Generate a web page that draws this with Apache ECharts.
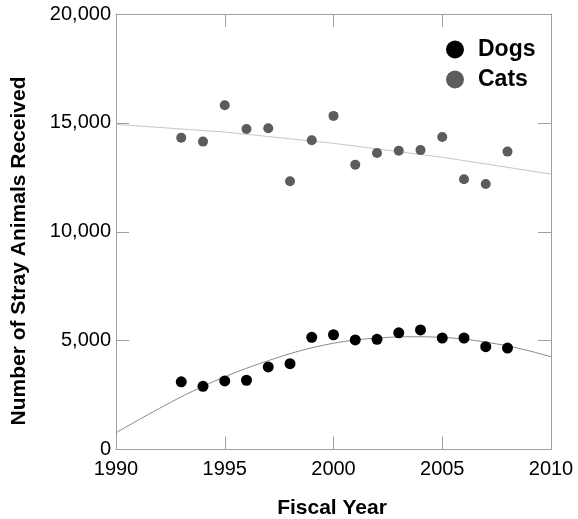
<!DOCTYPE html>
<html>
<head>
<meta charset="utf-8">
<script src="https://cdn.jsdelivr.net/npm/echarts@6/dist/echarts.min.js"></script>
<style>html,body{margin:0;padding:0;background:#fff}#c{width:578px;height:519px}</style>
</head>
<body>
<div id="c"></div>
<script>
var years = [1993,1994,1995,1996,1997,1998,1999,2000,2001,2002,2003,2004,2005,2006,2007,2008];
var dogs = [3110,2900,3150,3180,3790,3940,5150,5270,5030,5060,5360,5490,5120,5120,4720,4660];
var cats = [14320,14140,15810,14720,14750,12320,14200,15320,13080,13620,13720,13750,14350,12410,12190,13680];
var dogTrendYears = [1990,1991,1992,1993,1994,1995,1996,1997,1998,1999,2000,2001,2002,2003,2004,2005,2006,2007,2008,2009,2010];
var dogTrend = [770,1340,1890,2420,2900,3340,3730,4080,4400,4670,4880,5030,5120,5170,5180,5150,5070,4930,4760,4530,4260];
var catTrendYears = [1990,1995,2000,2005,2010];
var catTrend = [14930,14580,14060,13420,12650];
var xTicks = [1990,1995,2000,2005,2010];
var yTicks = [0,5000,10000,15000,20000];

var FONT = '"Liberation Sans", Arial, sans-serif';
var AX = '#a0a0a0';
function pairs(xs, ys){ return xs.map(function(x,i){return [x, ys[i]];}); }

var chart = echarts.init(document.getElementById('c'), null, {renderer:'canvas'});
chart.setOption({
  animation:false,
  backgroundColor:'#fff',
  grid:{left:116, right:27, top:14, bottom:69.5, containLabel:false},
  xAxis:[{
    type:'value', min:xTicks[0], max:xTicks[xTicks.length-1], interval:5,
    axisLine:{show:true, onZero:false, lineStyle:{color:AX, width:1}},
    axisTick:{show:true, inside:true, length:13, lineStyle:{color:AX}},
    axisLabel:{color:'#000', fontSize:20, fontFamily:FONT, margin:10, formatter:function(v){return String(v);}},
    splitLine:{show:false}
  },{
    type:'value', position:'top', min:xTicks[0], max:xTicks[xTicks.length-1], interval:5,
    axisLine:{show:true, onZero:false, lineStyle:{color:AX, width:1}},
    axisTick:{show:true, inside:true, length:13, lineStyle:{color:AX}},
    axisLabel:{show:false}, splitLine:{show:false}
  }],
  yAxis:[{
    type:'value', min:yTicks[0], max:yTicks[yTicks.length-1], interval:5000,
    axisLine:{show:true, onZero:false, lineStyle:{color:AX, width:1}},
    axisTick:{show:true, inside:true, length:13, lineStyle:{color:AX}},
    axisLabel:{color:'#000', fontSize:20, fontFamily:FONT, margin:5,
      formatter:function(v){return v.toLocaleString('en-US');}},
    splitLine:{show:false}
  },{
    type:'value', position:'right', min:yTicks[0], max:yTicks[yTicks.length-1], interval:5000,
    axisLine:{show:true, onZero:false, lineStyle:{color:AX, width:1}},
    axisTick:{show:true, inside:true, length:13, lineStyle:{color:AX}},
    axisLabel:{show:false}, splitLine:{show:false}
  }],
  legend:{
    data:['Dogs','Cats'], orient:'vertical', left:446, top:38, padding:0,
    itemWidth:18, itemHeight:18, itemGap:7, icon:'circle',
    textStyle:{fontSize:23, fontWeight:'bold', fontFamily:FONT, color:'#000', padding:[0,0,0,9]}
  },
  graphic:[
    {type:'text', x:332, y:508, style:{text:'Fiscal Year', font:'bold 21px '+FONT, fill:'#000', align:'center', verticalAlign:'middle'}},
    {type:'text', x:19, y:251, rotation:Math.PI/2, style:{text:'Number of Stray Animals Received', font:'bold 21px '+FONT, fill:'#000', align:'center', verticalAlign:'middle'}}
  ],
  series:[
    {name:'CatTrend', type:'line', data:pairs(catTrendYears, catTrend), symbol:'none', smooth:false,
      lineStyle:{color:'#c8c8c8', width:1}, silent:true, z:1},
    {name:'DogTrend', type:'line', data:pairs(dogTrendYears, dogTrend), symbol:'none', smooth:0.3,
      lineStyle:{color:'#8a8a8a', width:1}, silent:true, z:1},
    {name:'Dogs', type:'scatter', data:pairs(years, dogs), symbol:'circle', symbolSize:11,
      itemStyle:{color:'#000', opacity:1}, z:3},
    {name:'Cats', type:'scatter', data:pairs(years, cats), symbol:'circle', symbolSize:10,
      itemStyle:{color:'#5c5c5c', opacity:1}, z:3}
  ]
});
</script>
</body>
</html>
